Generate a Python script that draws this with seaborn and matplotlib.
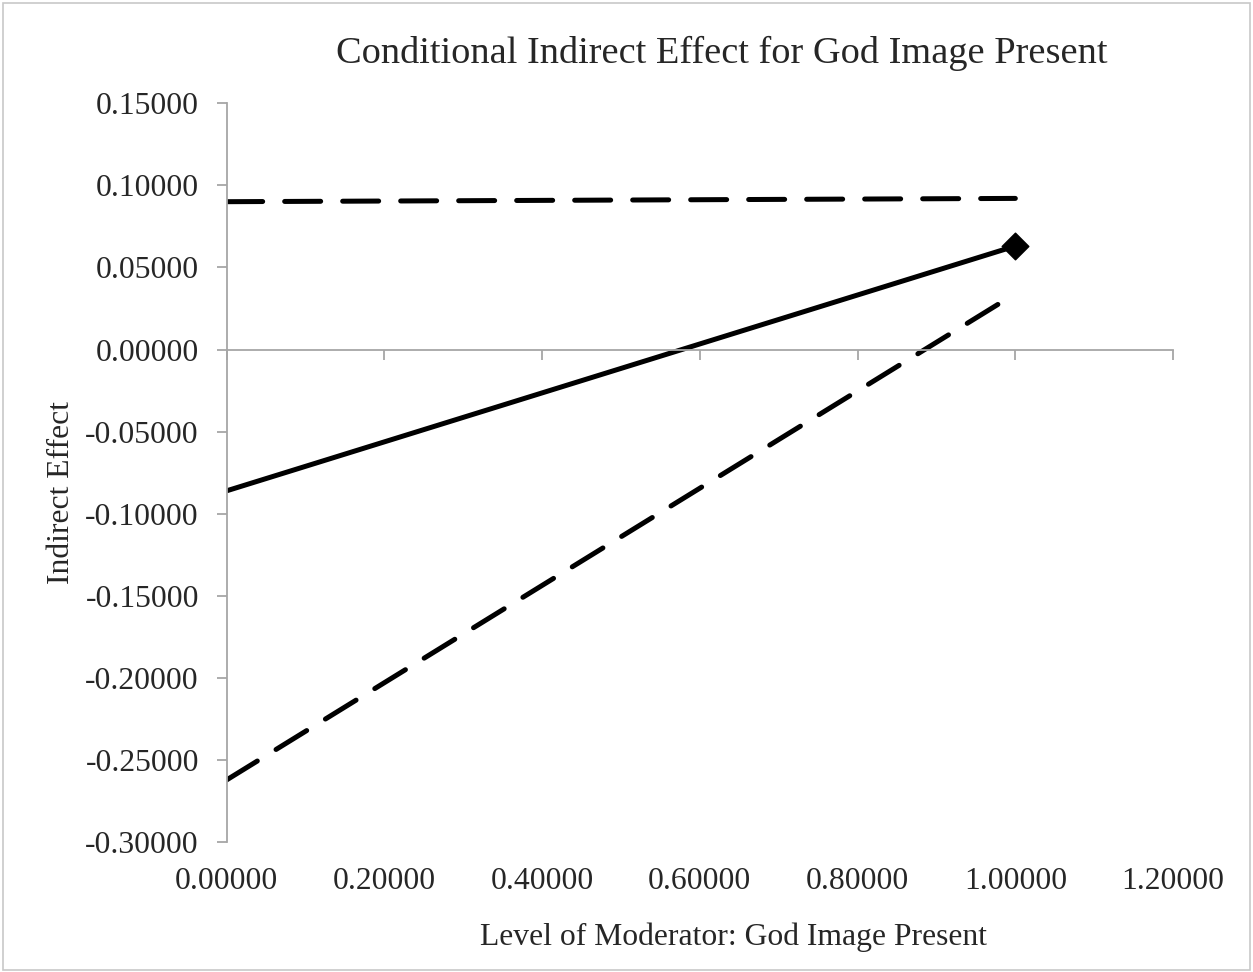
import matplotlib
matplotlib.use("Agg")
import matplotlib.pyplot as plt
import matplotlib.ticker as ticker
from matplotlib.patches import Rectangle
import numpy as np
import pandas as pd
import seaborn as sns

# values
moderator = [0.0, 1.0]
indirect_effect = [-0.086, 0.063]
ci_lower = [-0.262, 0.034]
ci_upper = [0.090, 0.092]
point_x = [1.0]
point_y = [0.063]

x_ticks = [0.0, 0.2, 0.4, 0.6, 0.8, 1.0, 1.2]
y_ticks = [-0.30, -0.25, -0.20, -0.15, -0.10, -0.05, 0.00, 0.05, 0.10, 0.15]

sns.set_style("white")
plt.rcParams['font.family'] = ['Liberation Serif', 'DejaVu Serif']

fig = plt.figure(figsize=(12.53, 9.72), dpi=100)
ax = fig.add_axes([0.1809, 0.1334, 0.9362 - 0.1809, 0.8939 - 0.1334])

df = pd.DataFrame({"x": moderator, "effect": indirect_effect,
                   "lower": ci_lower, "upper": ci_upper})

lw = 3.6
sns.lineplot(data=df, x="x", y="effect", ax=ax, color="black", linewidth=lw,
             solid_capstyle="butt")
for col in ["lower", "upper"]:
    sns.lineplot(data=df, x="x", y=col, ax=ax, color="black", linewidth=lw,
                 dashes=False)
    ax.lines[-1].set_dashes([7.2, 4.4])
    ax.lines[-1].set_dash_capstyle("round")
sns.scatterplot(x=point_x, y=point_y, ax=ax, marker="D", s=13.5 ** 2,
                color="black", edgecolor="black", zorder=5)

ax.set_xlim(0, 1.2)
ax.set_ylim(-0.30, 0.15)
ax.set_yticks(y_ticks)
ax.set_xticks(x_ticks)
fmt = ticker.FormatStrFormatter("%.5f")
ax.yaxis.set_major_formatter(fmt)

fs = 22.8
grey = "#a6a6a6"
for s in ["top", "right"]:
    ax.spines[s].set_visible(False)
ax.spines["left"].set_color(grey)
ax.spines["left"].set_linewidth(1.3)
ax.spines["bottom"].set_position(("data", 0))
ax.spines["bottom"].set_color(grey)
ax.spines["bottom"].set_linewidth(1.3)
ax.tick_params(axis="y", direction="out", length=7, width=1.3, color=grey,
               labelsize=fs, pad=13, left=True)
ax.tick_params(axis="x", direction="out", length=7, width=1.3, color=grey,
               labelbottom=False, bottom=True)

# labels of the x axis sit at the bottom of the plot area
sec = ax.secondary_xaxis(0.0)
sec.set_xticks(x_ticks)
sec.xaxis.set_major_formatter(fmt)
sec.tick_params(length=0, labelsize=fs, pad=18)
sec.spines["bottom"].set_visible(False)

ax.set_xlabel("Level of Moderator: God Image Present", fontsize=fs)
ax.xaxis.set_label_coords(0.536, -0.108)
ax.set_ylabel("Indirect Effect", fontsize=fs)
ax.yaxis.set_label_coords(-0.159, 0.4726)
fig.text(0.5758, 1 - 63 / 972, "Conditional Indirect Effect for God Image Present",
         ha="center", va="baseline", fontsize=27.6)

fig.patches.append(Rectangle((0.002, 0.002), 0.996, 0.995, transform=fig.transFigure,
                             fill=False, edgecolor="#c8c8c8", linewidth=1.2))

fig.savefig("out.png", dpi=100)
